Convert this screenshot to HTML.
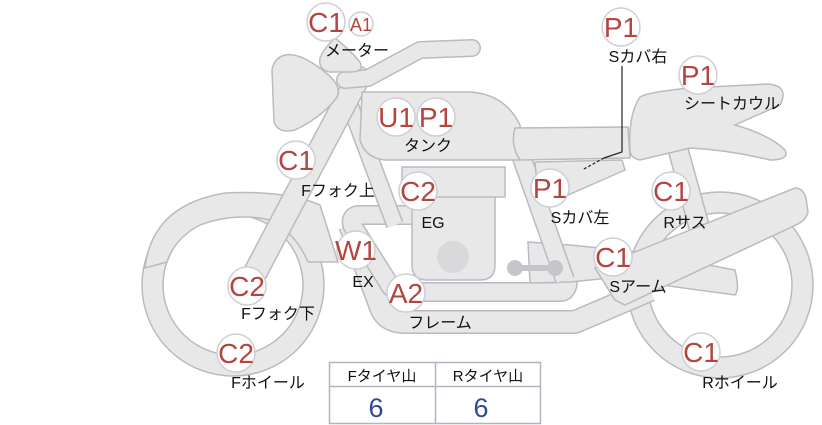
<!DOCTYPE html>
<html><head><meta charset="utf-8"><style>
body{margin:0;background:#fff;width:822px;height:425px;overflow:hidden}
svg{display:block}
.s{fill:#e8e8e8;stroke:#babac2;stroke-width:1.5}
.b{fill:#fff;stroke:#cfcfd4;stroke-width:1.5}
.bt{font-family:"Liberation Sans","Noto Sans CJK JP",sans-serif;fill:#b4443f;font-size:28px;text-anchor:middle}
.l{font-family:"Liberation Sans","Noto Sans CJK JP",sans-serif;fill:#111;font-size:16px;text-anchor:middle}
</style></head><body>
<svg width="822" height="425" viewBox="0 0 822 425">
<!-- front wheel -->
<circle cx="233" cy="285" r="91" class="s"/>
<circle cx="233" cy="285" r="70" class="b" style="stroke:#babac2"/>
<path class="s" d="M145,268 Q152,205 225,193 Q285,190 320,205 L338,262 L308,262 Q295,232 270,220 Q235,212 200,225 Q175,238 167,262 Z"/>
<!-- rear wheel -->
<circle cx="720" cy="285" r="93" class="s"/>
<circle cx="720" cy="285" r="72" class="b" style="stroke:#babac2"/>
<!-- rear shock -->
<path class="s" d="M668,150 L688,148 L712,235 L692,240 Z"/>
<!-- exhaust lower -->
<path d="M350,225 L380,305 Q385,322 405,322 L575,322 L650,290" fill="none" stroke="#babac2" stroke-width="24" stroke-linejoin="round"/>
<path d="M350,225 L380,305 Q385,322 405,322 L575,322 L650,290" fill="none" stroke="#e8e8e8" stroke-width="21" stroke-linejoin="round"/>
<!-- exhaust upper -->
<path d="M412,215 L360,215 Q350,215 352,225 L388,282 Q392,292 405,292 L560,292 Q568,292 568,280" fill="none" stroke="#babac2" stroke-width="20" stroke-linejoin="round"/>
<path d="M412,215 L360,215 Q350,215 352,225 L388,282 Q392,292 405,292 L560,292 Q568,292 568,280" fill="none" stroke="#e8e8e8" stroke-width="17" stroke-linejoin="round"/>
<!-- swing arm / rear frame -->
<path class="s" d="M528,242 L570,245 L640,252 L735,270 Q740,290 735,295 L610,278 L570,282 L530,283 Z"/>
<path class="s" d="M595,268 L795,188 Q803,188 806,198 L808,212 Q806,220 798,224 L625,305 L615,300 Z"/>
<!-- front downtube -->
<path d="M350,105 L395,225" fill="none" stroke="#babac2" stroke-width="18"/>
<path d="M350,105 L395,225" fill="none" stroke="#e8e8e8" stroke-width="15"/>
<!-- rear frame tube -->
<path d="M512,130 L565,280" fill="none" stroke="#babac2" stroke-width="20"/>
<path d="M512,130 L565,280" fill="none" stroke="#e8e8e8" stroke-width="17"/>
<!-- engine -->
<path class="s" d="M412,196 L495,196 L495,265 Q495,280 480,280 L427,280 Q412,280 412,265 Z"/>
<rect x="402" y="167" width="103" height="30" class="s"/>
<circle cx="453" cy="257" r="16" fill="#d9d9dc"/>
<path d="M515,268 L555,268" stroke="#c6c6ca" stroke-width="6"/>
<circle cx="515" cy="268" r="8" fill="#c6c6ca"/><circle cx="555" cy="268" r="8" fill="#c6c6ca"/>
<!-- fork -->
<path d="M358,78 L245,292" fill="none" stroke="#babac2" stroke-width="25" stroke-linecap="round"/>
<path d="M358,78 L245,292" fill="none" stroke="#e8e8e8" stroke-width="22" stroke-linecap="round"/>
<!-- handlebar -->
<path d="M345,80 L368,78 L420,50 L472,48" fill="none" stroke="#babac2" stroke-width="18" stroke-linecap="round" stroke-linejoin="round"/>
<path d="M345,80 L368,78 L420,50 L472,48" fill="none" stroke="#e8e8e8" stroke-width="15" stroke-linecap="round" stroke-linejoin="round"/>
<!-- meter -->
<path class="s" d="M335,38 Q350,50 360,62 Q365,72 350,72 L330,72 Q318,70 320,58 Q324,48 335,38 Z"/>
<!-- headlight -->
<path class="s" d="M285,55 Q300,52 325,72 Q345,88 335,100 Q320,118 295,130 Q278,134 274,122 L272,70 Q274,58 285,55 Z"/>
<!-- tank -->
<path class="s" d="M362,92 L470,92 Q505,94 520,125 L520,160 L385,160 Q365,158 360,140 Z"/>
<!-- seat -->
<path class="s" d="M515,128 L628,127 L630,158 L520,160 Q510,145 515,128 Z"/>
<!-- side cover -->
<path class="s" d="M535,162 L622,160 L625,170 L568,195 L538,195 Z"/>
<!-- seat cowl -->
<path class="s" d="M640,97 Q648,92 690,88 L768,84 Q790,86 780,105 L735,125 Q770,135 785,150 Q790,160 770,160 Q730,150 690,148 L640,160 Q630,158 630,150 Q628,115 640,97 Z"/>
<!-- connector -->
<path d="M622,66 L622,152 L604,158" fill="none" stroke="#222" stroke-width="1.2"/>
<path d="M604,158 L582,170" fill="none" stroke="#222" stroke-width="1.2" stroke-dasharray="3,2"/>
<!-- badges -->
<g>
<circle cx="326" cy="22" r="19" class="b"/><text x="326" y="32" class="bt">C1</text>
<circle cx="361" cy="24" r="12" class="b"/><text x="361" y="31" class="bt" style="font-size:18px">A1</text>
<text x="357" y="56" class="l">メーター</text>
<circle cx="396" cy="117" r="19" class="b"/><text x="396" y="127" class="bt">U1</text>
<circle cx="436" cy="117" r="19" class="b"/><text x="436" y="127" class="bt">P1</text>
<text x="428" y="151" class="l">タンク</text>
<circle cx="296" cy="160" r="19" class="b"/><text x="296" y="170" class="bt">C1</text>
<text x="338" y="196" class="l">Fフォク上</text>
<circle cx="418" cy="191" r="19" class="b"/><text x="418" y="201" class="bt">C2</text>
<text x="433" y="228" class="l">EG</text>
<circle cx="356" cy="250" r="19" class="b"/><text x="356" y="260" class="bt">W1</text>
<text x="363" y="287" class="l">EX</text>
<circle cx="247" cy="286" r="19" class="b"/><text x="247" y="296" class="bt">C2</text>
<text x="278" y="319" class="l">Fフォク下</text>
<circle cx="406" cy="293" r="19" class="b"/><text x="406" y="303" class="bt">A2</text>
<text x="440" y="328" class="l">フレーム</text>
<circle cx="236" cy="353" r="19" class="b"/><text x="236" y="363" class="bt">C2</text>
<text x="268" y="388" class="l">Fホイール</text>
<circle cx="621" cy="27" r="19" class="b"/><text x="621" y="37" class="bt">P1</text>
<text x="638" y="62" class="l">Sカバ右</text>
<circle cx="698" cy="75" r="19" class="b"/><text x="698" y="85" class="bt">P1</text>
<text x="732" y="109" class="l">シートカウル</text>
<circle cx="550" cy="188" r="19" class="b"/><text x="550" y="198" class="bt">P1</text>
<text x="580" y="223" class="l">Sカバ左</text>
<circle cx="671" cy="191" r="19" class="b"/><text x="671" y="201" class="bt">C1</text>
<text x="685" y="228" class="l">Rサス</text>
<circle cx="613" cy="257" r="19" class="b"/><text x="613" y="267" class="bt">C1</text>
<text x="638" y="292" class="l">Sアーム</text>
<circle cx="701" cy="352" r="19" class="b"/><text x="701" y="362" class="bt">C1</text>
<text x="740" y="388" class="l">Rホイール</text>
</g>
<!-- table -->
<rect x="329.5" y="362.5" width="211" height="61" fill="#fff" stroke="#b4b4c0" stroke-width="1.5"/>
<line x1="329" y1="386.5" x2="541" y2="386.5" stroke="#b4b4c0" stroke-width="1.5"/>
<line x1="435.5" y1="362" x2="435.5" y2="424" stroke="#b4b4c0" stroke-width="1.5"/>
<text x="382" y="381" class="l" style="font-size:15px">Fタイヤ山</text>
<text x="488" y="381" class="l" style="font-size:15px">Rタイヤ山</text>
<text x="376" y="417" class="l" style="fill:#2c4a98;font-size:27px">6</text>
<text x="481" y="417" class="l" style="fill:#2c4a98;font-size:27px">6</text>
</svg>
</body></html>
